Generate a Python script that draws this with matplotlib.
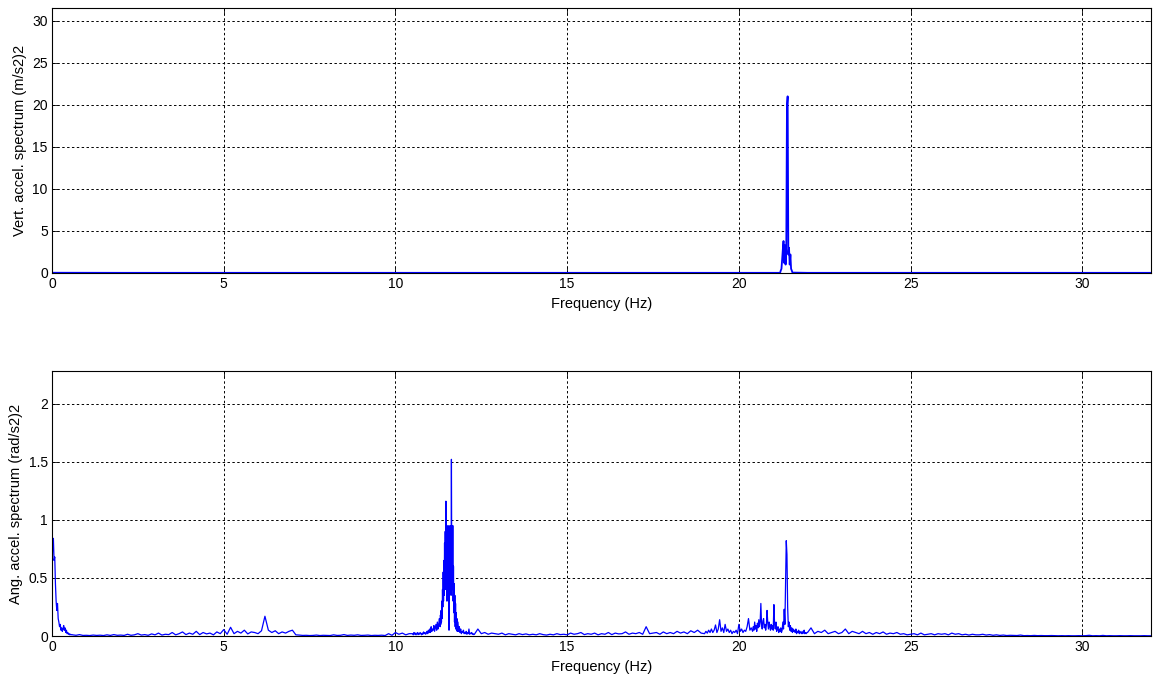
import numpy as np
import matplotlib
matplotlib.use("Agg")
import matplotlib.pyplot as plt

plt.rcParams['font.family'] = ['Liberation Sans', 'DejaVu Sans']

# ---------------- Top panel: vertical acceleration spectrum ----------------
top_freq = [0.0, 2.0, 5.0, 8.0, 10.0, 13.0, 16.0, 19.0, 21.0, 21.20, 21.22, 21.24,
            21.26, 21.28, 21.30, 21.32, 21.34, 21.36, 21.38, 21.40, 21.42, 21.44,
            21.46, 21.48, 21.50, 21.52, 21.54, 21.56, 22.0, 25.0, 28.0, 32.0]
top_vals = [0.03, 0.02, 0.02, 0.02, 0.02, 0.02, 0.02, 0.02, 0.02, 0.02, 0.3, 0.5,
            1.6, 2.8, 3.8, 1.2, 3.3, 1.0, 2.5, 19.8, 21.0, 2.2,
            3.0, 1.0, 2.2, 0.5, 0.3, 0.05, 0.02, 0.02, 0.02, 0.02]

# ---------------- Bottom panel: angular acceleration spectrum ----------------
# segment A: 0 - 0.60 Hz, step 0.02
segA_start, segA_step = 0.0, 0.02
segA_vals = [0.55, 0.80, 0.84, 0.65, 0.68, 0.45, 0.30, 0.22, 0.28, 0.15,
             0.12, 0.08, 0.10, 0.05, 0.07, 0.04, 0.06, 0.09, 0.05, 0.07,
             0.03, 0.05, 0.02, 0.03, 0.015, 0.02, 0.01, 0.015, 0.01, 0.012,
             0.01]
# segment B: 0.7 - 10.4 Hz, step 0.1
segB_start, segB_step = 0.7, 0.1
segB_vals = [0.006, 0.012, 0.005,
             0.006, 0.004, 0.008, 0.005, 0.007, 0.004, 0.010, 0.005, 0.012, 0.006,
             0.008, 0.005, 0.015, 0.006, 0.010, 0.020, 0.008, 0.012, 0.006, 0.018,
             0.010, 0.025, 0.008, 0.015, 0.012, 0.030, 0.010, 0.020, 0.035, 0.012,
             0.025, 0.015, 0.040, 0.012, 0.030, 0.018, 0.025, 0.010, 0.035, 0.020,
             0.055, 0.015, 0.075, 0.020, 0.040, 0.025, 0.050, 0.018, 0.035, 0.030,
             0.020, 0.045, 0.170, 0.050, 0.030, 0.045, 0.020, 0.035, 0.025, 0.040,
             0.050, 0.010, 0.008, 0.005, 0.006, 0.004, 0.005, 0.008, 0.004, 0.006,
             0.005, 0.004, 0.010, 0.005, 0.006, 0.012, 0.005, 0.008, 0.006, 0.010,
             0.005, 0.006, 0.008, 0.004, 0.006, 0.005, 0.007, 0.004, 0.020, 0.006,
             0.030, 0.015, 0.025, 0.010, 0.020]
# segment C1: 10.5 - 11.28 Hz, step 0.02
segC1_start, segC1_step = 10.5, 0.02
segC1_vals = [0.02, 0.01, 0.03, 0.015, 0.025, 0.01, 0.02, 0.03, 0.012, 0.025,
              0.015, 0.03, 0.02, 0.01, 0.025, 0.015, 0.035, 0.02, 0.03, 0.015,
              0.025, 0.04, 0.02, 0.05, 0.03, 0.06, 0.03, 0.08, 0.04, 0.06,
              0.05, 0.09, 0.04, 0.07, 0.10, 0.05, 0.12, 0.06, 0.10, 0.15]
# segment C2: 11.30 - 11.80 Hz, step 0.01 (main cluster)
segC2_start, segC2_step = 11.3, 0.01
segC2_vals = [0.08, 0.18, 0.10, 0.22, 0.12, 0.30, 0.15, 0.40, 0.25, 0.55,
              0.30, 0.65, 0.35, 0.80, 0.45, 0.90, 0.40, 1.16, 0.50, 0.85,
              0.30, 0.90, 0.45, 0.95, 0.55, 0.75, 0.05, 0.85, 0.60, 0.95,
              0.50, 0.80, 0.35, 1.52, 0.55, 0.95, 0.40, 0.95, 0.30, 0.60,
              0.20, 0.45, 0.12, 0.35, 0.08, 0.28, 0.06, 0.20, 0.05, 0.15,
              0.04]
# segment C3: 11.82 - 12.30 Hz, step 0.02
segC3_start, segC3_step = 11.82, 0.02
segC3_vals = [0.12, 0.04, 0.08, 0.03, 0.06, 0.02, 0.04, 0.03, 0.05, 0.02,
              0.03, 0.02, 0.04, 0.015, 0.03, 0.02, 0.06, 0.015, 0.025, 0.02,
              0.03, 0.015, 0.02, 0.012, 0.015]
# segment D: 12.4 - 18.9 Hz, step 0.1
segD_start, segD_step = 12.4, 0.1
segD_vals = [0.06, 0.02, 0.03, 0.015, 0.025, 0.02,
             0.015, 0.025, 0.01, 0.02, 0.015, 0.01, 0.02, 0.012, 0.018, 0.01,
             0.015, 0.01, 0.02, 0.012, 0.008, 0.015, 0.01, 0.02, 0.012, 0.015,
             0.01, 0.025, 0.015, 0.02, 0.03, 0.012, 0.02, 0.015, 0.025, 0.01,
             0.02, 0.015, 0.03, 0.012, 0.025, 0.018, 0.02, 0.035, 0.015, 0.025,
             0.02, 0.03, 0.015, 0.08, 0.02, 0.025, 0.03, 0.015, 0.035, 0.02,
             0.03, 0.02, 0.04, 0.025, 0.035, 0.02, 0.045, 0.03, 0.05, 0.025]
# segment E1: 19.0 - 20.36 Hz, step 0.04
segE1_start, segE1_step = 19.0, 0.04
segE1_vals = [0.02, 0.04, 0.025, 0.05, 0.03, 0.06, 0.03, 0.05, 0.095, 0.03,
              0.06, 0.14, 0.04, 0.07, 0.03, 0.10, 0.04, 0.06, 0.03, 0.05,
              0.02, 0.04, 0.03, 0.05, 0.02, 0.10, 0.04, 0.06, 0.03, 0.05,
              0.04, 0.08, 0.15, 0.05, 0.07]
# segment E2: 20.40 - 21.98 Hz, step 0.02
segE2_start, segE2_step = 20.4, 0.02
segE2_vals = [0.04, 0.08, 0.05, 0.12, 0.06, 0.09, 0.04, 0.11, 0.07, 0.14,
              0.08, 0.12, 0.28, 0.10, 0.06, 0.13, 0.15, 0.07, 0.10, 0.05,
              0.09, 0.22, 0.12, 0.06, 0.12, 0.08, 0.05, 0.10, 0.06, 0.09,
              0.05, 0.27, 0.10, 0.06, 0.12, 0.04, 0.07, 0.08, 0.03, 0.06,
              0.04, 0.07, 0.03, 0.05, 0.12, 0.06, 0.23, 0.10, 0.45, 0.82,
              0.70, 0.25, 0.08, 0.12, 0.05, 0.09, 0.04, 0.07, 0.03, 0.06,
              0.04, 0.05, 0.03, 0.06, 0.02, 0.04, 0.03, 0.05, 0.02, 0.04,
              0.03, 0.02, 0.04, 0.02, 0.03, 0.05, 0.02, 0.03, 0.02, 0.03]
# segment F: 22.0 - 32.0 Hz, step 0.1
segF_start, segF_step = 22.0, 0.1
segF_vals = [0.03, 0.07, 0.02, 0.04, 0.03, 0.05, 0.02, 0.03, 0.04, 0.02,
             0.03, 0.06, 0.02, 0.04, 0.03, 0.02, 0.04, 0.02, 0.03, 0.015,
             0.03, 0.02, 0.035, 0.015, 0.025, 0.02, 0.03, 0.015, 0.02, 0.01,
             0.015, 0.02, 0.01, 0.025, 0.01, 0.015, 0.02, 0.01, 0.02, 0.015,
             0.02, 0.01, 0.025, 0.015, 0.02, 0.01, 0.015, 0.008, 0.015, 0.01,
             0.01, 0.015, 0.008, 0.012, 0.006, 0.01, 0.005, 0.008, 0.004, 0.006,
             0.005, 0.004, 0.008, 0.003, 0.004, 0.003, 0.005, 0.003, 0.004, 0.003,
             0.003, 0.004, 0.003, 0.002, 0.003, 0.002, 0.003, 0.002, 0.002, 0.003,
             0.002, 0.003, 0.006, 0.002, 0.003, 0.002, 0.005, 0.002, 0.003, 0.002,
             0.002, 0.003, 0.002, 0.002, 0.003, 0.002, 0.002, 0.002, 0.003, 0.002,
             0.002]

segments = [(segA_start, segA_step, segA_vals), (segB_start, segB_step, segB_vals),
            (segC1_start, segC1_step, segC1_vals), (segC2_start, segC2_step, segC2_vals),
            (segC3_start, segC3_step, segC3_vals), (segD_start, segD_step, segD_vals),
            (segE1_start, segE1_step, segE1_vals), (segE2_start, segE2_step, segE2_vals),
            (segF_start, segF_step, segF_vals)]
bot_freq = np.concatenate([s + st * np.arange(len(v)) for s, st, v in segments])
bot_vals = np.concatenate([np.asarray(v, float) for _, _, v in segments])

x_ticks = [0, 5, 10, 15, 20, 25, 30]
top_yticks = [0, 5, 10, 15, 20, 25, 30]
bot_yticks = [0, 0.5, 1, 1.5, 2]
bot_yticklabels = ['0', '0.5', '1', '1.5', '2']

W, H = 1155, 682
fig = plt.figure(figsize=(W / 100, H / 100), dpi=100)
ax1 = fig.add_axes([52 / W, 1 - 273 / H, (1151 - 52) / W, (273 - 8) / H])
ax2 = fig.add_axes([52 / W, 1 - 636 / H, (1151 - 52) / W, (636 - 371) / H])

def style(ax):
    ax.set_xlim(0, 32)
    ax.set_xticks(x_ticks)
    ax.tick_params(direction='in', top=True, right=True, length=4, width=0.6,
                   labelsize=10, pad=3, colors='black')
    ax.grid(True, color='black', linestyle=(0, (2.5, 2.5)), linewidth=0.7)
    for sp in ax.spines.values():
        sp.set_linewidth(0.8)
        sp.set_color('black')
    ax.set_xlabel('Frequency (Hz)', fontsize=10.5, labelpad=4)

ax1.plot(top_freq, top_vals, color=(0, 0, 1), linewidth=1.3)
ax1.set_ylim(0, 31.5)
ax1.set_yticks(top_yticks)
style(ax1)
ax1.set_ylabel('Vert. accel. spectrum (m/s2)2', fontsize=10.5, labelpad=4)

ax2.plot(bot_freq, bot_vals, color=(0, 0, 1), linewidth=0.9)
ax2.set_ylim(0, 2.28)
ax2.set_yticks(bot_yticks)
ax2.set_yticklabels(bot_yticklabels)
style(ax2)
ax2.set_ylabel('Ang. accel. spectrum (rad/s2)2', fontsize=10.5, labelpad=4)

fig.savefig('out.png', dpi=100)
